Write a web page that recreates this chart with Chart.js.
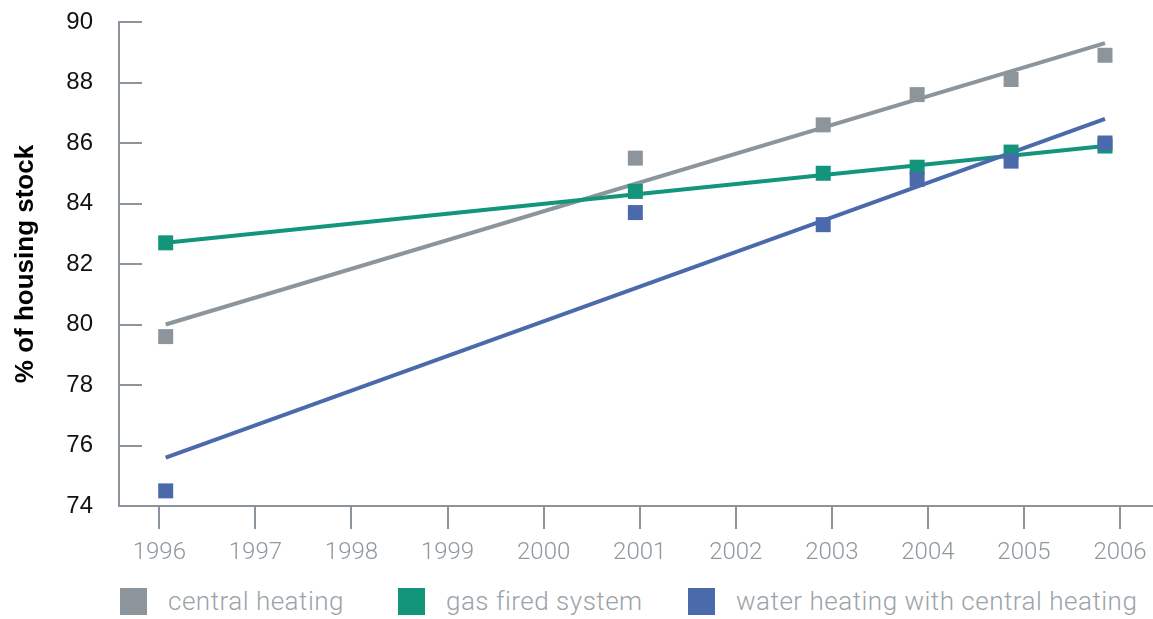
<!DOCTYPE html>
<html>
<head>
<meta charset="utf-8">
<script src="https://cdn.jsdelivr.net/npm/chart.js@4.4.1/dist/chart.umd.min.js"></script>
<style>
  html, body { margin: 0; padding: 0; background: #fff; }
  #wrap { position: relative; width: 1153px; height: 578px; }
  #legend { display: flex; align-items: center; margin: 8px 0 0 120px; font-family: Roboto, sans-serif; font-weight: 300; font-size: 26px; letter-spacing: 0.5px; color: #9aa3a9; }
  .item { display: flex; align-items: center; white-space: nowrap; }
  .item:nth-child(1) { width: 278px; }
  .item:nth-child(2) { width: 290px; }
  .box { width: 27px; height: 27px; margin-right: 21px; flex: none; }
</style>
</head>
<body>
<div id="wrap"><canvas id="chart"></canvas></div>
<div id="legend"></div>
<script>
const yearTicks = [1996, 1997, 1998, 1999, 2000, 2001, 2002, 2003, 2004, 2005, 2006];
const years = [1996, 2001, 2003, 2004, 2005, 2006];
const centralHeating = [79.6, 85.5, 86.6, 87.6, 88.1, 88.9];
const gasFired = [82.7, 84.4, 85.0, 85.2, 85.7, 85.9];
const waterHeating = [74.5, 83.7, 83.3, 84.8, 85.4, 86.0];
const trendYears = [1996, 2006];
const centralTrend = [80.0, 89.3];
const gasTrend = [82.7, 85.9];
const waterTrend = [75.6, 86.8];

const seriesNames = ['central heating', 'gas fired system', 'water heating with central heating'];
const seriesColors = ['#8b959b', '#12957b', '#4a6aab'];
const axisColor = '#8c959c';

const pts = (xs, ys) => xs.map((x, i) => ({ x, y: ys[i] }));

function pointSet(i, values, order) {
    return {
        type: 'scatter', label: seriesNames[i], data: pts(years, values), xAxisID: 'xData',
        backgroundColor: seriesColors[i], borderWidth: 0, pointStyle: 'rect', pointRadius: 10.6,
        order
    };
}

function trendSet(i, values, order) {
    return {
        type: 'line', label: seriesNames[i] + ' trend', data: pts(trendYears, values), xAxisID: 'xData',
        borderColor: seriesColors[i], borderWidth: 4, pointRadius: 0, fill: false, order
    };
}

new Chart(document.getElementById('chart'), {
    data: {
        datasets: [
            pointSet(2, waterHeating, 1),
            pointSet(1, gasFired, 2),
            pointSet(0, centralHeating, 3),
            trendSet(2, waterTrend, 4),
            trendSet(1, gasTrend, 5),
            trendSet(0, centralTrend, 6)
        ]
    },
    options: {
        responsive: true,
        maintainAspectRatio: false,
        animation: false,
        layout: { autoPadding: false, padding: { top: 22, right: 0, left: 0, bottom: 0 } },
        plugins: { legend: { display: false }, tooltip: { enabled: false } },
        scales: {
            x: {
                type: 'linear', position: 'bottom', min: 1995.58, max: 2006.343,
                afterBuildTicks: s => { s.ticks = yearTicks.map(v => ({ value: v })); },
                afterFit: s => { s.height = 72; s.paddingLeft = 0; s.paddingRight = 0; },
                ticks: {
                    callback: v => String(v), color: '#8f989e', padding: 10,
                    maxRotation: 0, autoSkip: false,
                    font: { family: 'Roboto', weight: 300, size: 24 }
                },
                grid: { drawOnChartArea: false, tickLength: 23, color: axisColor, lineWidth: 2 },
                border: { color: axisColor, width: 2 }
            },
            xData: { type: 'linear', display: false, min: 1995.503, max: 2006.511 },
            y: {
                min: 74, max: 90,
                afterFit: s => { s.width = 119; s.paddingTop = 0; s.paddingBottom = 0; },
                ticks: {
                    stepSize: 2, color: '#111', padding: 49,
                    font: { family: 'Liberation Sans', size: 24 }
                },
                grid: { drawOnChartArea: false, tickLength: -23, color: axisColor, lineWidth: 2 },
                border: { color: axisColor, width: 2 },
                title: {
                    display: true, text: '% of housing stock', color: '#000', padding: 10,
                    font: { family: 'Liberation Sans', weight: 'bold', size: 26 }
                }
            }
        }
    }
});

const legendEl = document.getElementById('legend');
seriesNames.forEach((name, i) => {
    const item = document.createElement('div');
    item.className = 'item';
    const box = document.createElement('span');
    box.className = 'box';
    box.style.background = seriesColors[i];
    const label = document.createElement('span');
    label.textContent = name;
    item.appendChild(box);
    item.appendChild(label);
    legendEl.appendChild(item);
});
</script>
</body>
</html>
